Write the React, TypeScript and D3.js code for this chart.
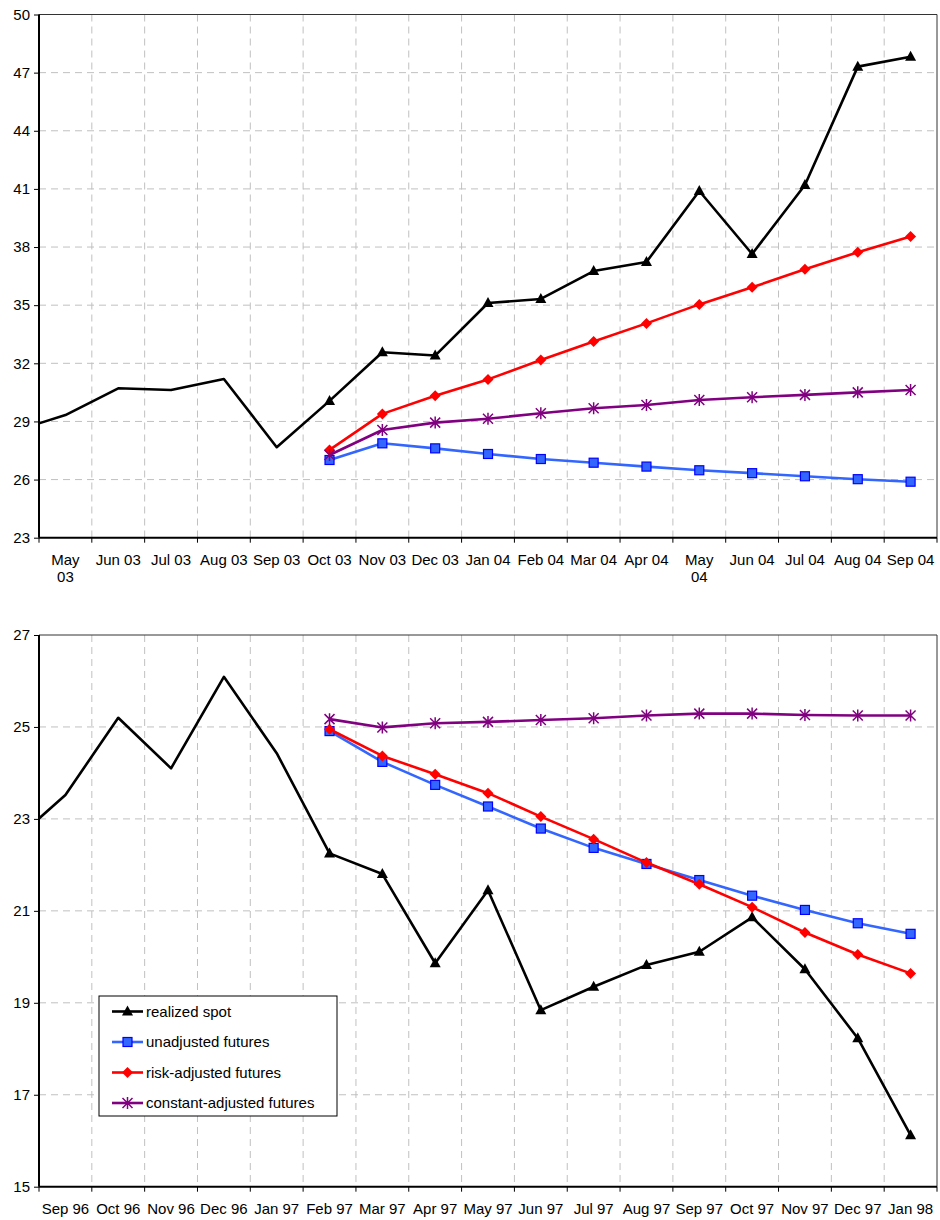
import { useEffect, useRef } from "react";
import * as d3 from "d3";

// top panel: May 03 .. Sep 04
const topCats = ["May\n03", "Jun 03", "Jul 03", "Aug 03", "Sep 03", "Oct 03", "Nov 03", "Dec 03", "Jan 04", "Feb 04", "Mar 04", "Apr 04", "May\n04", "Jun 04", "Jul 04", "Aug 04", "Sep 04"];
const topTicks = [23, 26, 29, 32, 35, 38, 41, 44, 47, 50];
const topSpotLead = 28.9;
const topSpot = [29.33, 30.71, 30.62, 31.19, 27.67, 30.06, 32.57, 32.4, 35.11, 35.32, 36.76, 37.23, 40.89, 37.64, 41.2, 47.31, 47.82];
const topUnadj = [27.01, 27.87, 27.61, 27.32, 27.06, 26.87, 26.67, 26.48, 26.33, 26.17, 26.02, 25.89];
const topRisk = [27.53, 29.39, 30.33, 31.17, 32.17, 33.12, 34.06, 35.04, 35.92, 36.85, 37.73, 38.54];
const topConst = [27.27, 28.56, 28.94, 29.14, 29.42, 29.68, 29.85, 30.11, 30.25, 30.37, 30.5, 30.62];

// bottom panel: Sep 96 .. Jan 98
const botCats = ["Sep 96", "Oct 96", "Nov 96", "Dec 96", "Jan 97", "Feb 97", "Mar 97", "Apr 97", "May 97", "Jun 97", "Jul 97", "Aug 97", "Sep 97", "Oct 97", "Nov 97", "Dec 97", "Jan 98"];
const botTicks = [15, 17, 19, 21, 23, 25, 27];
const botSpotLead = 23.01;
const botSpot = [23.52, 25.2, 24.1, 26.09, 24.43, 22.25, 21.8, 19.86, 21.45, 18.84, 19.35, 19.82, 20.11, 20.86, 19.73, 18.23, 16.12];
const botUnadj = [24.91, 24.24, 23.74, 23.27, 22.79, 22.37, 22.02, 21.67, 21.33, 21.02, 20.73, 20.5];
const botRisk = [24.95, 24.37, 23.97, 23.56, 23.05, 22.56, 22.05, 21.58, 21.08, 20.53, 20.05, 19.64];
const botConst = [25.17, 24.99, 25.08, 25.11, 25.15, 25.19, 25.25, 25.29, 25.29, 25.26, 25.25, 25.25];

const forecastStart = 5;
const seriesNames = ["realized spot", "unadjusted futures", "risk-adjusted futures", "constant-adjusted futures"];

const FONT = "Arial, 'Liberation Sans', sans-serif";
const styles = [
  { line: "#000000", fill: "#000000", stroke: "#000000", marker: "triangle" },
  { line: "#3366FF", fill: "#3366FF", stroke: "#0000FF", marker: "square" },
  { line: "#FF0000", fill: "#FF0000", stroke: "#FF0000", marker: "diamond" },
  { line: "#800080", fill: "none", stroke: "#800080", marker: "star" },
];

function drawMarker(g: any, kind: string, x: number, y: number, st: any) {
  if (kind === "triangle") {
    g.append("path").attr("d", `M${x},${y - 6}L${x + 5.5},${y + 4}L${x - 5.5},${y + 4}Z`).attr("fill", st.fill);
  } else if (kind === "square") {
    g.append("rect").attr("x", x - 4.5).attr("y", y - 4.5).attr("width", 9).attr("height", 9)
      .attr("fill", st.fill).attr("stroke", st.stroke).attr("stroke-width", 1.2);
  } else if (kind === "diamond") {
    g.append("path").attr("d", `M${x},${y - 5.5}L${x + 5.5},${y}L${x},${y + 5.5}L${x - 5.5},${y}Z`).attr("fill", st.fill);
  } else {
    const r = 5;
    g.append("path")
      .attr("d", `M${x - r},${y - r}L${x + r},${y + r}M${x - r},${y + r}L${x + r},${y - r}M${x},${y - r - 1}L${x},${y + r + 1}`)
      .attr("fill", "none").attr("stroke", st.stroke).attr("stroke-width", 1.5);
  }
}

function drawPanel(svg: any, o: any) {
  const left = 39, right = 937;
  const x = d3.scaleLinear().domain([-0.5, o.cats.length - 0.5]).range([left, right]);
  const y = d3.scaleLinear().domain(o.domain).range([o.bottom, o.top]);
  const g = svg.append("g");

  // grid
  g.selectAll(".hg").data(o.ticks.slice(1, -1)).join("line")
    .attr("x1", left).attr("x2", right).attr("y1", (d: number) => y(d)).attr("y2", (d: number) => y(d))
    .attr("stroke", "#c0c0c0").attr("stroke-dasharray", "7,5");
  g.selectAll(".vg").data(d3.range(1, o.cats.length)).join("line")
    .attr("x1", (i: number) => x(i - 0.5)).attr("x2", (i: number) => x(i - 0.5))
    .attr("y1", o.top).attr("y2", o.bottom)
    .attr("stroke", "#c0c0c0").attr("stroke-dasharray", "7,5");

  // frame
  g.append("line").attr("x1", left).attr("x2", right).attr("y1", o.top).attr("y2", o.top).attr("stroke", "#333").attr("stroke-width", 1);
  g.append("line").attr("x1", right).attr("x2", right).attr("y1", o.top).attr("y2", o.bottom).attr("stroke", "#333").attr("stroke-width", 1);

  // axes
  g.append("g").attr("transform", `translate(${left},0)`)
    .call(d3.axisLeft(y).tickValues(o.ticks).tickSize(5).tickPadding(4).tickFormat(d3.format("d")))
    .call((a: any) => a.select(".domain").remove())
    .call((a: any) => a.selectAll("line").attr("stroke", "#000"))
    .call((a: any) => a.selectAll("text").attr("font-family", FONT).attr("font-size", 15).attr("fill", "#000"));
  g.append("line").attr("x1", left).attr("x2", left).attr("y1", o.top).attr("y2", o.bottom).attr("stroke", "#000").attr("stroke-width", 2);

  g.selectAll(".xt").data(d3.range(0, o.cats.length + 1)).join("line")
    .attr("x1", (i: number) => x(i - 0.5)).attr("x2", (i: number) => x(i - 0.5))
    .attr("y1", o.bottom).attr("y2", o.bottom + 5).attr("stroke", "#000");
  g.append("line").attr("x1", left).attr("x2", right).attr("y1", o.bottom).attr("y2", o.bottom).attr("stroke", "#000").attr("stroke-width", 2);

  o.cats.forEach((c: string, i: number) => {
    const parts = c.split("\n");
    const t = g.append("text").attr("x", x(i)).attr("y", o.bottom + 27)
      .attr("text-anchor", "middle").attr("font-family", FONT).attr("font-size", 15).attr("fill", "#000");
    parts.forEach((p, k) => t.append("tspan").attr("x", x(i)).attr("dy", k === 0 ? 0 : 17.5).text(p));
  });

  // series
  const line = d3.line<[number, number]>().x((d) => x(d[0])).y((d) => y(d[1]));
  const spotPts: [number, number][] = [[-0.5, o.lead] as [number, number]].concat(o.spot.map((v: number, i: number) => [i, v] as [number, number]));
  const futs = [o.unadj, o.risk, o.cnst].map((arr: number[]) => arr.map((v, i) => [i + forecastStart, v] as [number, number]));
  const all = [spotPts, ...futs];
  all.forEach((pts, s) => {
    const st = styles[s];
    g.append("path").attr("d", line(pts)).attr("fill", "none").attr("stroke", st.line)
      .attr("stroke-width", 2.6).attr("stroke-linejoin", "round");
    const mg = g.append("g");
    pts.filter((p) => p[0] >= forecastStart).forEach((p) => drawMarker(mg, st.marker, x(p[0]), y(p[1]), st));
  });

  if (o.legend) {
    const lg = g.append("g").attr("transform", "translate(99,996)");
    lg.append("rect").attr("width", 238).attr("height", 120).attr("fill", "#fff").attr("stroke", "#000").attr("stroke-width", 1);
    seriesNames.forEach((n, s) => {
      const cy = 15.5 + s * 30.5;
      const st = styles[s];
      lg.append("line").attr("x1", 13).attr("x2", 44).attr("y1", cy).attr("y2", cy).attr("stroke", st.line).attr("stroke-width", 2.6);
      drawMarker(lg, st.marker, 28.5, cy, st);
      lg.append("text").attr("x", 47).attr("y", cy).attr("dy", "0.35em").attr("font-family", FONT).attr("font-size", 15).attr("fill", "#000").text(n);
    });
  }
}

export default function App() {
  const ref = useRef<SVGSVGElement>(null);

  useEffect(() => {
    const svg = d3.select(ref.current);
    svg.selectAll("*").remove();
    svg.append("rect").attr("width", 940).attr("height", 1220).attr("fill", "#fff");
    drawPanel(svg, {
      cats: topCats, ticks: topTicks, domain: [23, 50], top: 14.5, bottom: 537.7,
      lead: topSpotLead, spot: topSpot, unadj: topUnadj, risk: topRisk, cnst: topConst, legend: false,
    });
    drawPanel(svg, {
      cats: botCats, ticks: botTicks, domain: [15, 27], top: 635, bottom: 1186.7,
      lead: botSpotLead, spot: botSpot, unadj: botUnadj, risk: botRisk, cnst: botConst, legend: true,
    });
  }, []);

  return (
    <svg ref={ref} width={940} height={1220} style={{ position: "absolute", left: 0, top: 0 }} />
  );
}
